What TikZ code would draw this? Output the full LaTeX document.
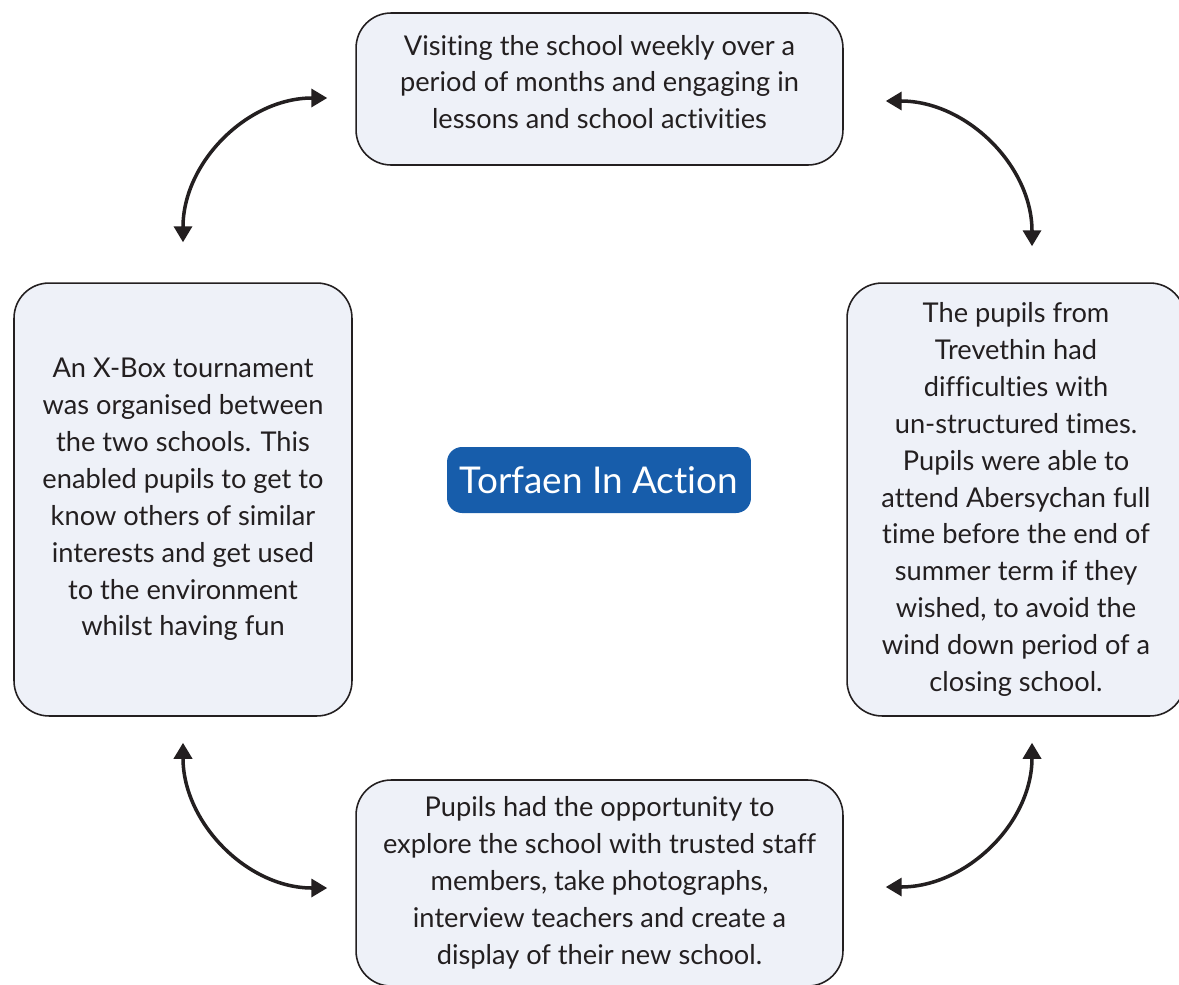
\documentclass[tikz,border=0pt]{standalone}
\usepackage{fontspec}
\setmainfont{Lato}[Ligatures=NoCommon]
\usetikzlibrary{arrows.meta}
\definecolor{boxfill}{HTML}{EEF1F8}
\definecolor{boxline}{HTML}{231F20}
\definecolor{actionblue}{HTML}{175DAB}
\tikzstyle{member} = [rectangle, rounded corners=0.7cm, draw=boxline, line width=0.9pt, fill=boxfill, text=boxline, align=center, font=\fontsize{15.5}{21}\selectfont, inner sep=0pt]
\tikzstyle{centre} = [rectangle, rounded corners=0.3cm, fill=actionblue, text=white, minimum width=6.08cm, minimum height=1.32cm, font=\fontsize{21}{25}\selectfont]
\tikzstyle{arrow} = [line width=2pt, draw=boxline, {Triangle[length=0.32cm, width=0.36cm]}-{Triangle[length=0.32cm, width=0.36cm]}]

\begin{document}
\begin{tikzpicture}[x=0.02cm, y=-0.02cm]
        \useasboundingbox (0,0) rectangle (1179,984);
        \node (visiting) [member, minimum width=9.74cm, minimum height=3.04cm] at (599.5,89)
            {\raisebox{0.14cm}[\height][\depth]{\parbox{9cm}{\centering Visiting the school weekly over a\\period of months and engaging in\\lessons and school activities}}};
        \node (xbox) [member, minimum width=6.76cm, minimum height=8.66cm] at (183,499.5)
            {An X-Box tournament\\was organised between\\the two schools. This\\enabled pupils to get to\\know others of similar\\interests and get used\\to the environment\\whilst having fun};
        \node (trevethin) [member, minimum width=6.76cm, minimum height=8.66cm] at (1016,499.5)
            {The pupils from\\Trevethin had\\difficulties with\\un-structured times.\\Pupils were able to\\attend Abersychan full\\time before the end of\\summer term if they\\wished, to avoid the\\wind down period of a\\closing school.};
        \node (explore) [member, minimum width=9.74cm, minimum height=4.12cm] at (599.5,883)
            {Pupils had the opportunity to\\explore the school with trusted staff\\members, take photographs,\\interview teachers and create a\\display of their new school.};
        \node (torfaen) [centre] at (599,480) {Torfaen In Action};

        \draw [arrow] ([yshift=0.8cm]xbox.north) to [out=90, in=180] ([xshift=-0.56cm, yshift=-0.18cm]visiting.west);
        \draw [arrow] ([xshift=0.84cm, yshift=-0.24cm]visiting.east) to [out=0, in=90] ([xshift=0.32cm, yshift=0.72cm]trevethin.north);
        \draw [arrow] ([yshift=-0.52cm]xbox.south) to [out=-90, in=180] ([xshift=-0.56cm, yshift=-0.1cm]explore.west);
        \draw [arrow] ([xshift=0.84cm, yshift=-0.08cm]explore.east) to [out=0, in=-90] ([xshift=0.32cm, yshift=-0.52cm]trevethin.south);
\end{tikzpicture}
\end{document}
